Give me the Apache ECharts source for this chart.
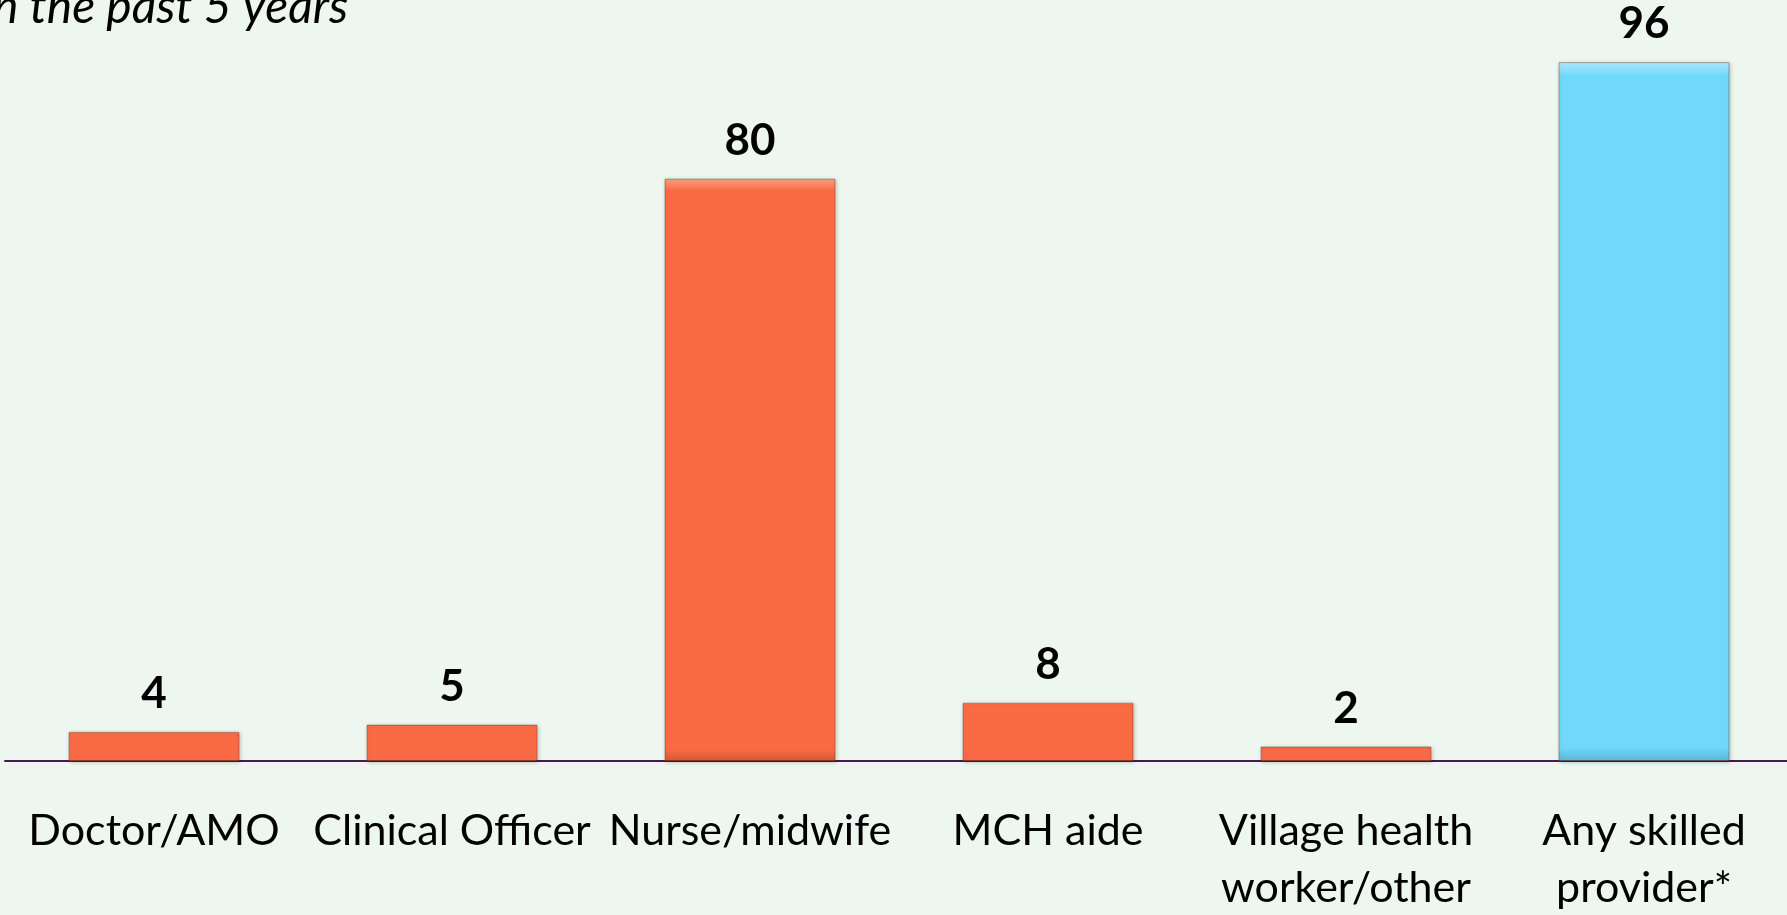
<!DOCTYPE html>
<html>
<head>
<meta charset="utf-8">
<script src="https://cdn.jsdelivr.net/npm/echarts@6/dist/echarts.min.js"></script>
<style>
  html, body { margin: 0; padding: 0; background: #edf7ef; }
  #main { width: 1787px; height: 915px; }
</style>
</head>
<body>
<div id="main"></div>
<script>
// categories and values
var providers = ['Doctor/AMO', 'Clinical Officer', 'Nurse/midwife', 'MCH aide', 'Village health\nworker/other', 'Any skilled\nprovider*'];
var percents = [4, 5, 80, 8, 2, 96];
var titleText = 'in the past 5 years';

var myChart = echarts.init(document.getElementById('main'));

// bevel-ish look: lighter top edge, darker bottom
function barFill(base, light, dark) {
  return new echarts.graphic.LinearGradient(0, 0, 0, 1, [
    { offset: 0, color: light },
    { offset: 0.02, color: base },
    { offset: 0.98, color: base },
    { offset: 1, color: dark }
  ]);
}

var option = {
  backgroundColor: '#edf7ef',
  animation: false,
  graphic: [{
    type: 'text',
    left: -18,
    top: -16,
    style: {
      text: titleText,
      font: 'italic 48px Lato',
      fill: '#000'
    }
  }],
  grid: {
    left: 5,
    right: -6,
    top: 33,
    bottom: 154,
    outerBoundsMode: 'none'
  },
  xAxis: {
    type: 'category',
    data: providers,
    axisTick: { show: false },
    axisLine: {
      lineStyle: { color: '#4b1a4b', width: 2 }
    },
    axisLabel: {
      interval: 0,
      margin: 42,
      color: '#000',
      fontFamily: 'Lato',
      fontSize: 43,
      lineHeight: 57
    }
  },
  yAxis: {
    type: 'value',
    min: 0,
    max: 100,
    show: false,
    splitLine: { show: false }
  },
  series: [{
    type: 'bar',
    data: percents,
    barWidth: 171,
    itemStyle: {
      color: function (p) {
        return p.dataIndex === percents.length - 1
          ? barFill('#70d8fb', '#aeeafd', '#5bb8d8')
          : barFill('#fa6b45', '#fca384', '#d85838');
      },
      borderColor: 'rgba(110,50,30,0.4)',
      borderWidth: 1,
      shadowColor: 'rgba(0,0,0,0.25)',
      shadowBlur: 4,
      shadowOffsetX: 1,
      shadowOffsetY: 1
    },
    label: {
      show: true,
      position: 'top',
      distance: 16,
      color: '#000',
      fontFamily: 'Lato',
      fontWeight: 'bold',
      fontSize: 44
    }
  }]
};

myChart.setOption(option);
</script>
</body>
</html>
